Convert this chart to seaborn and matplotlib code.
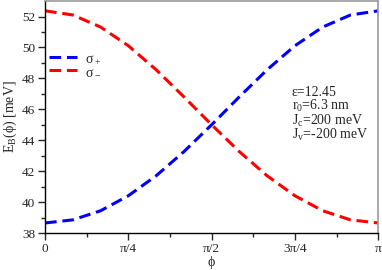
import numpy as np
import pandas as pd
import matplotlib
matplotlib.use("Agg")
import matplotlib.pyplot as plt
import seaborn as sns
from matplotlib.lines import Line2D

# phi in units of pi/12, energies in meV
phi_steps = [0, 1, 2, 3, 4, 5, 6, 7, 8, 9, 10, 11, 12]
e_minus = [52.37, 52.10, 51.32, 50.11, 48.56, 46.81, 45.00, 43.26, 41.70, 40.41, 39.44, 38.85, 38.65]
e_plus = [38.65, 38.85, 39.44, 40.41, 41.70, 43.26, 45.00, 46.81, 48.56, 50.11, 51.32, 52.10, 52.37]

tick_vals = [0, 0.25, 0.5, 0.75, 1.0]
tick_labels = ["0", "π/4", "π/2", "3π/4", "π"]

phi = np.array(phi_steps) * np.pi / 12
df = pd.concat([
    pd.DataFrame({"phi": phi, "E": e_plus, "pol": "plus"}),
    pd.DataFrame({"phi": phi, "E": e_minus, "pol": "minus"}),
], ignore_index=True)

sns.set_style("ticks")
plt.rcParams["font.family"] = ["Liberation Serif", "DejaVu Serif"]
plt.rcParams["mathtext.fontset"] = "custom"
plt.rcParams["mathtext.rm"] = "Liberation Serif"
plt.rcParams["mathtext.it"] = "Liberation Serif"

fig = plt.figure(figsize=(3.82, 2.70), dpi=100)
ax = fig.add_axes([0.118, 0.137, 0.872, 0.859])

sns.lineplot(data=df, x="phi", y="E", hue="pol", hue_order=["plus", "minus"],
             palette={"plus": "#0000ff", "minus": "#ff0000"}, ax=ax,
             linewidth=2.2, legend=False)
for ln in ax.get_lines():
    ln.set_dashes((3.8, 1.9))

ax.set_xlim(0, np.pi)
ax.set_ylim(38, 53)
ax.set_xticks([t * np.pi for t in tick_vals])
ax.set_xticklabels(tick_labels)
ax.set_xticks([t * np.pi for t in [0.125, 0.375, 0.625, 0.875]], minor=True)
ax.set_yticks(np.arange(38, 53, 2))
ax.set_yticks(np.arange(39, 53, 2), minor=True)
ax.tick_params(which="major", direction="out", length=5, width=1, labelsize=9.5, pad=2)
ax.tick_params(which="minor", direction="out", length=3, width=1)

ax.set_xlabel("ϕ", fontsize=10, labelpad=1)
ax.set_ylabel(r"E$_\mathrm{B}$(ϕ) [meV]", fontsize=10, labelpad=2)

for s in ["left", "bottom"]:
    ax.spines[s].set_color("black")
    ax.spines[s].set_linewidth(1.0)
for s in ["top", "right"]:
    ax.spines[s].set_color("#999999")
    ax.spines[s].set_linewidth(1.2)

h1 = Line2D([], [], color="#0000ff", lw=2.2, dashes=(3.8, 1.9))
h2 = Line2D([], [], color="#ff0000", lw=2.2, dashes=(3.8, 1.9))
ax.legend([h1, h2], [r"σ$_+$", r"σ$_-$"], loc="upper left", bbox_to_anchor=(-0.005, 0.805),
          frameon=False, fontsize=10, handlelength=2.0, handletextpad=0.6,
          labelspacing=0.0, borderaxespad=0)

ax.text(0.74, 0.635, "ε=12.45\nr$_0$=6.3 nm\nJ$_c$=200 meV\nJ$_v$=-200 meV",
        transform=ax.transAxes, fontsize=10, va="top", ha="left", linespacing=0.9)

fig.savefig("out.png", dpi=100)
